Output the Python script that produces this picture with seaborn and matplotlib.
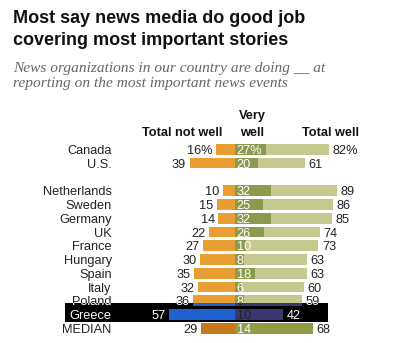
import matplotlib
matplotlib.use("Agg")
import matplotlib.pyplot as plt
import seaborn as sns
import pandas as pd
from matplotlib.patches import Rectangle

# ---------------- data ----------------
countries = ["Canada", "U.S.", "Netherlands", "Sweden", "Germany", "UK", "France",
             "Hungary", "Spain", "Italy", "Poland", "Greece", "MEDIAN"]
not_well = [16, 39, 10, 15, 14, 22, 27, 30, 35, 32, 36, 57, 29]
very_well = [27, 20, 32, 25, 32, 26, 10, 8, 18, 6, 8, 10, 14]
total_well = [82, 61, 89, 86, 85, 74, 73, 63, 63, 60, 59, 42, 68]
highlight = "Greece"
summary = "MEDIAN"
partly_covered = "Poland"

title_lines = ["Most say news media do good job", "covering most important stories"]
subtitle_lines = ["News organizations in our country are doing __ at",
                  "reporting on the most important news events"]
col_heads = ["Total not well", "Very", "well", "Total well"]

# ---------------- style ----------------
sns.set_theme(style="white")
plt.rcParams['font.family'] = ['Liberation Sans', 'DejaVu Sans']

ORANGE, LIGHT, DARK = "#E89E32", "#C5C88F", "#8C9A4D"
MED_OR, MED_OL = "#C7791C", "#929B45"
GR_BL, GR_PU = "#1E62CF", "#3C3671"
TXT = "#222222"

W, H = 414, 343
fig = plt.figure(figsize=(W / 100, H / 100), dpi=100)
ax = fig.add_axes([0, 0, 1, 1])

X0, XS = 234.5, 1.15   # pixel of zero line, pixels per percentage point
Y0, YS = 149.3, 13.77  # pixel of first row centre, pixels per row


def px(x):
    return (x - X0) / XS


def py(y):
    return (y - Y0) / YS


pos = [i if i < 2 else i + 1 for i in range(len(countries))]
df = pd.DataFrame({"country": countries, "pos": pos,
                   "neg": [-v for v in not_well],
                   "very": very_well, "total": total_well})


def pal(default, med, gr):
    return {c: (gr if c == highlight else med if c == summary else default) for c in countries}


common = dict(y="pos", hue="country", orient="h", native_scale=True, width=0.78,
              dodge=False, legend=False, ax=ax, saturation=1, linewidth=0, errorbar=None)
sns.barplot(data=df, x="total", palette=pal(LIGHT, MED_OL, GR_PU), **common)
sns.barplot(data=df, x="very", palette=pal(DARK, MED_OL, GR_PU), **common)
sns.barplot(data=df, x="neg", palette=pal(ORANGE, MED_OR, GR_BL), **common)

# highlight band behind Greece row
band = Rectangle((px(65), py(302.7)), px(327.7) - px(65), py(321.7) - py(302.7),
                 facecolor="black", edgecolor="none", zorder=0.5)
ax.add_patch(band)

# inverted overlay of the row partly under the band
dsub = df[df.country == partly_covered]
n0 = len(ax.patches)
sub_common = dict(common)
sub_common["zorder"] = 1.5
sns.barplot(data=dsub, x="total", palette={partly_covered: GR_PU}, **sub_common)
sns.barplot(data=dsub, x="neg", palette={partly_covered: GR_BL}, **sub_common)
for p in ax.patches[n0:]:
    p.set_clip_path(band)

# ---------------- labels ----------------
FS = 9.2
BOFF = 4.7 / YS
for i, c in enumerate(countries):
    y = pos[i] + BOFF
    suf = "%" if i == 0 else ""
    isg = c == highlight
    lab_col = "white" if isg else TXT
    texts = []
    texts.append(ax.text(px(111.7), y, c, ha="right", va="baseline", fontsize=FS, color=lab_col))
    texts.append(ax.text(-not_well[i] - 3.5 / XS, y, f"{not_well[i]}{suf}", ha="right",
                         va="baseline", fontsize=FS, color=lab_col))
    texts.append(ax.text(total_well[i] + 3.5 / XS, y, f"{total_well[i]}{suf}", ha="left",
                         va="baseline", fontsize=FS, color=lab_col))
    texts.append(ax.text(2 / XS, y, f"{very_well[i]}{suf}", ha="left", va="baseline",
                         fontsize=FS, color=(TXT if isg else "white"), zorder=3))
    if c == partly_covered:
        for t in texts:
            inv = "white" if t.get_color() != "white" else "black"
            t2 = ax.text(*t.get_position(), t.get_text(), ha=t.get_ha(), va="baseline",
                         fontsize=FS, color=inv, zorder=4, clip_on=True)
            t2.set_clip_path(band)

ax.set_xlim(px(0), px(W))
ax.set_ylim(py(H), py(0))
ax.axis("off")

# ---------------- headers / titles ----------------
def fx(x):
    return x / W


def fy(y):
    return 1 - y / H


renderer = fig.canvas.get_renderer()


def fit(t, target):
    bb = t.get_window_extent(renderer=renderer)
    t.set_fontsize(t.get_fontsize() * target / bb.width)


hkw = dict(fontsize=9.2, fontweight="bold", color="#111111", va="baseline")
fig.text(fx(222.7), fy(135.5), col_heads[0], ha="right", **hkw)
fig.text(fx(252), fy(119.5), col_heads[1], ha="center", **hkw)
fig.text(fx(252), fy(135.5), col_heads[2], ha="center", **hkw)
fig.text(fx(359), fy(135.5), col_heads[3], ha="right", **hkw)

t1 = fig.text(fx(13), fy(22.7), title_lines[0], fontsize=13, fontweight="bold",
              color="#111111", va="baseline")
t2 = fig.text(fx(13), fy(45.2), title_lines[1], fontsize=13, fontweight="bold",
              color="#111111", va="baseline")
fit(t1, 291)
t2.set_fontsize(t1.get_fontsize())

s1 = fig.text(fx(13), fy(71.7), subtitle_lines[0], fontsize=9, style="italic",
              family=["Liberation Serif", "DejaVu Serif"], color="#666666", va="baseline")
s2 = fig.text(fx(13), fy(87.3), subtitle_lines[1], fontsize=9, style="italic",
              family=["Liberation Serif", "DejaVu Serif"], color="#666666", va="baseline")
fit(s1, 312)
s2.set_fontsize(s1.get_fontsize())

fig.savefig("out.png", dpi=100, facecolor="white")
